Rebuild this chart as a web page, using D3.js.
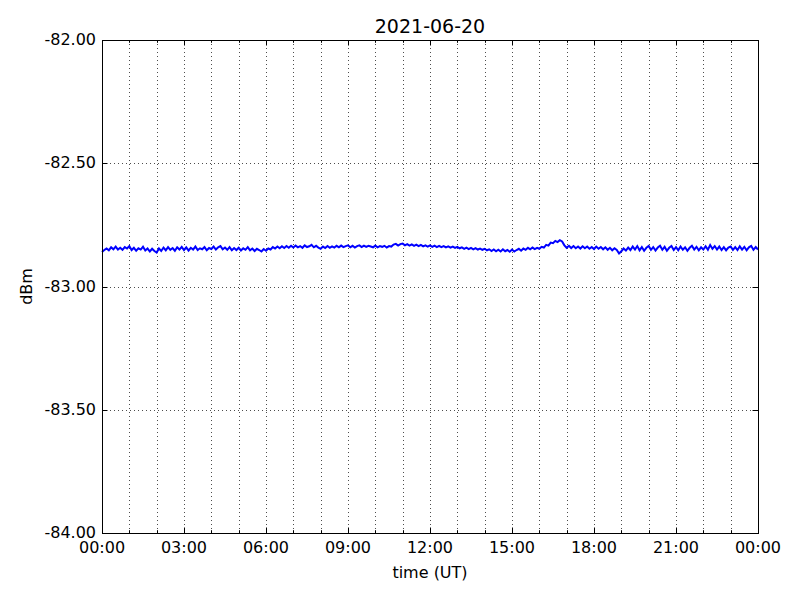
<!DOCTYPE html>
<html>
<head>
<meta charset="utf-8">
<script src="https://cdn.jsdelivr.net/npm/d3@7"></script>
<style>
  html, body { margin: 0; padding: 0; background: #fff; }
  svg { display: block; }
  text { font-family: "DejaVu Sans", sans-serif; fill: #000; }
</style>
</head>
<body>
<div id="chart"></div>
<script>
// ---- data ----
const title = "2021-06-20";
const xLabel = "time (UT)";
const yLabel = "dBm";
const stepMinutes = 5;
const signal = [
  // 00h
  -82.860,-82.852,-82.846,-82.853,-82.841,-82.849,-82.838,-82.850,-82.843,-82.851,-82.840,-82.846,
  // 01h
  -82.836,-82.852,-82.843,-82.855,-82.845,-82.850,-82.839,-82.854,-82.846,-82.858,-82.847,-82.856,
  // 02h
  -82.862,-82.846,-82.856,-82.842,-82.853,-82.840,-82.851,-82.844,-82.855,-82.841,-82.850,-82.839,
  // 03h
  -82.852,-82.841,-82.854,-82.843,-82.850,-82.838,-82.852,-82.845,-82.849,-82.840,-82.853,-82.844,
  // 04h
  -82.848,-82.838,-82.850,-82.841,-82.836,-82.849,-82.842,-82.851,-82.840,-82.853,-82.844,-82.852,
  // 05h
  -82.843,-82.854,-82.845,-82.851,-82.840,-82.853,-82.846,-82.856,-82.847,-82.852,-82.858,-82.848,
  // 06h
  -82.855,-82.846,-82.850,-82.840,-82.846,-82.838,-82.845,-82.837,-82.844,-82.836,-82.843,-82.835,
  // 07h
  -82.842,-82.834,-82.841,-82.836,-82.843,-82.833,-82.840,-82.837,-82.831,-82.841,-82.835,-82.842,
  // 08h
  -82.847,-82.838,-82.844,-82.836,-82.843,-82.837,-82.842,-82.835,-82.841,-82.834,-82.840,-82.836,
  // 09h
  -82.833,-82.841,-82.835,-82.842,-82.836,-82.833,-82.840,-82.834,-82.839,-82.835,-82.838,-82.841,
  // 10h
  -82.834,-82.841,-82.836,-82.839,-82.835,-82.842,-82.836,-82.838,-82.830,-82.827,-82.834,-82.828,
  // 11h
  -82.826,-82.833,-82.828,-82.834,-82.829,-82.835,-82.830,-82.836,-82.831,-82.837,-82.833,-82.838,
  // 12h
  -82.833,-82.839,-82.834,-82.840,-82.835,-82.840,-82.836,-82.841,-82.837,-82.842,-82.838,-82.843,
  // 13h
  -82.839,-82.845,-82.841,-82.847,-82.842,-82.848,-82.843,-82.849,-82.844,-82.850,-82.846,-82.851,
  // 14h
  -82.847,-82.853,-82.849,-82.856,-82.850,-82.857,-82.851,-82.858,-82.849,-82.857,-82.852,-82.859,
  // 15h
  -82.850,-82.858,-82.852,-82.847,-82.855,-82.846,-82.851,-82.843,-82.849,-82.842,-82.848,-82.843,
  // 16h
  -82.847,-82.839,-82.842,-82.831,-82.834,-82.822,-82.824,-82.815,-82.820,-82.812,-82.817,-82.833,
  // 17h
  -82.843,-82.835,-82.844,-82.836,-82.845,-82.838,-82.846,-82.837,-82.845,-82.838,-82.847,-82.840,
  // 18h
  -82.848,-82.838,-82.847,-82.840,-82.849,-82.841,-82.851,-82.843,-82.853,-82.845,-82.852,-82.866,
  // 19h
  -82.857,-82.846,-82.854,-82.842,-82.852,-82.838,-82.850,-82.836,-82.853,-82.840,-82.855,-82.843,
  // 20h
  -82.836,-82.851,-82.840,-82.854,-82.842,-82.835,-82.851,-82.839,-82.855,-82.843,-82.836,-82.852,
  // 21h
  -82.840,-82.853,-82.838,-82.851,-82.841,-82.855,-82.843,-82.835,-82.850,-82.839,-82.853,-82.841,
  // 22h
  -82.850,-82.837,-82.851,-82.832,-82.847,-82.836,-82.850,-82.838,-82.852,-82.840,-82.853,-82.842,
  // 23h
  -82.838,-82.851,-82.840,-82.852,-82.837,-82.850,-82.839,-82.853,-82.841,-82.835,-82.851,-82.840,
  // 24h
  -82.850
];
const xMajorTicks = [0, 3, 6, 9, 12, 15, 18, 21, 24];
const xTickLabels = ["00:00","03:00","06:00","09:00","12:00","15:00","18:00","21:00","00:00"];
const xMinorTicks = [1, 2, 4, 5, 7, 8, 10, 11, 13, 14, 16, 17, 19, 20, 22, 23];
const yTicks = [-84, -83.5, -83, -82.5, -82];
const yTickLabels = ["-84.00","-83.50","-83.00","-82.50","-82.00"];

// ---- layout ----
const W = 800, H = 600;
const m = { left: 102, right: 42, top: 40, bottom: 67 };
const pw = W - m.left - m.right, ph = H - m.top - m.bottom;

const svg = d3.select("#chart").append("svg").attr("width", W).attr("height", H);
const g = svg.append("g").attr("transform", `translate(${m.left},${m.top})`);

const x = d3.scaleLinear().domain([0, 24]).range([0, pw]);
const y = d3.scaleLinear().domain([-84, -82]).range([ph, 0]);

// grid
const grid = g.append("g").attr("stroke", "#000").attr("stroke-width", 0.7).attr("stroke-dasharray", "1,3");
grid.selectAll("line.vx").data(xMajorTicks.concat(xMinorTicks)).join("line")
  .attr("x1", d => Math.round(x(d)) + 0.5).attr("x2", d => Math.round(x(d)) + 0.5)
  .attr("y1", 0).attr("y2", ph);
grid.selectAll("line.hy").data(yTicks).join("line")
  .attr("y1", d => Math.round(y(d)) + 0.5).attr("y2", d => Math.round(y(d)) + 0.5)
  .attr("x1", 0).attr("x2", pw);

// line
const line = d3.line()
  .x((d, i) => x(i * stepMinutes / 60))
  .y(d => y(d));
g.append("path").datum(signal)
  .attr("fill", "none").attr("stroke", "#0000ff").attr("stroke-width", 2)
  .attr("stroke-linejoin", "miter")
  .attr("d", line);

// ticks (inward, all sides)
const tk = g.append("g").attr("stroke", "#000").attr("stroke-width", 1);
const majorLen = 5.5, minorLen = 2.8;
xMajorTicks.forEach(t => {
  const px = Math.round(x(t)) + 0.5;
  tk.append("line").attr("x1", px).attr("x2", px).attr("y1", ph).attr("y2", ph - majorLen);
  tk.append("line").attr("x1", px).attr("x2", px).attr("y1", 0).attr("y2", majorLen);
});
xMinorTicks.forEach(t => {
  const px = Math.round(x(t)) + 0.5;
  tk.append("line").attr("x1", px).attr("x2", px).attr("y1", ph).attr("y2", ph - minorLen);
  tk.append("line").attr("x1", px).attr("x2", px).attr("y1", 0).attr("y2", minorLen);
});
yTicks.forEach(t => {
  const py = Math.round(y(t)) + 0.5;
  tk.append("line").attr("y1", py).attr("y2", py).attr("x1", 0).attr("x2", majorLen);
  tk.append("line").attr("y1", py).attr("y2", py).attr("x1", pw).attr("x2", pw - majorLen);
});

// frame
g.append("rect").attr("x", 0.5).attr("y", 0.5).attr("width", pw).attr("height", ph)
  .attr("fill", "none").attr("stroke", "#000").attr("stroke-width", 1);

// tick labels
const fs = 16;
g.append("g").selectAll("text").data(xMajorTicks).join("text")
  .attr("x", d => x(d)).attr("y", ph + 20)
  .attr("text-anchor", "middle").attr("font-size", fs)
  .text((d, i) => xTickLabels[i]);
g.append("g").selectAll("text").data(yTicks).join("text")
  .attr("x", -6).attr("y", d => y(d) + 5)
  .attr("text-anchor", "end").attr("font-size", fs)
  .text((d, i) => yTickLabels[i]);

// labels
svg.append("text").attr("x", m.left + pw / 2).attr("y", 33)
  .attr("text-anchor", "middle").attr("font-size", 19).text(title);
svg.append("text").attr("x", m.left + pw / 2).attr("y", 578)
  .attr("text-anchor", "middle").attr("font-size", fs).text(xLabel);
svg.append("text").attr("transform", `translate(32,${m.top + ph / 2}) rotate(-90)`)
  .attr("text-anchor", "middle").attr("font-size", fs).text(yLabel);
</script>
</body>
</html>
